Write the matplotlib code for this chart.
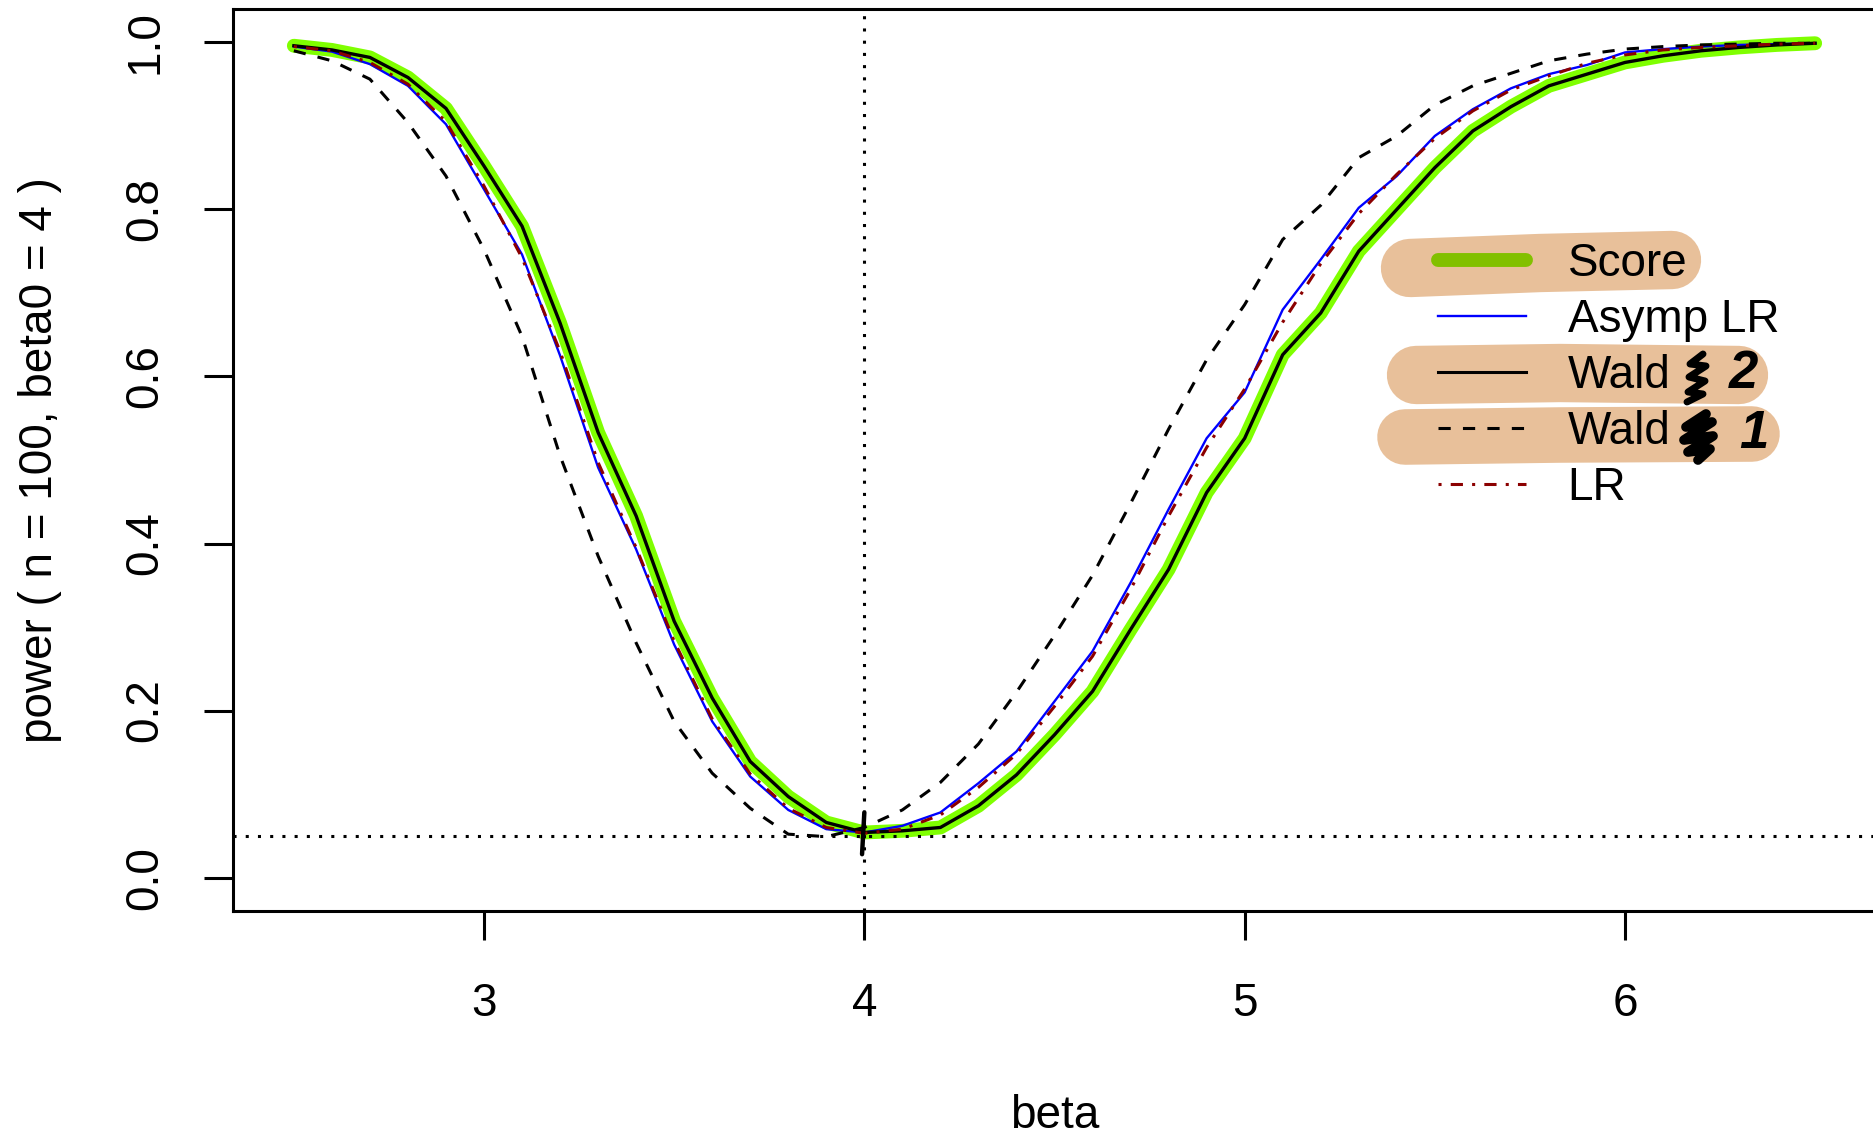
import matplotlib
matplotlib.use("Agg")
import matplotlib.pyplot as plt
from matplotlib.lines import Line2D

plt.rcParams['font.family'] = ['Liberation Sans', 'DejaVu Sans']

# power curves, n = 100, beta0 = 4
beta = [2.5, 2.6, 2.7, 2.8, 2.9, 3.0, 3.1, 3.2, 3.3, 3.4, 3.5, 3.6, 3.7, 3.8, 3.9, 4.0,
        4.1, 4.2, 4.3, 4.4, 4.5, 4.6, 4.7, 4.8, 4.9, 5.0, 5.1, 5.2, 5.3, 5.4, 5.5, 5.6,
        5.7, 5.8, 5.9, 6.0, 6.1, 6.2, 6.3, 6.4, 6.5]
score = [0.996, 0.991, 0.982, 0.958, 0.921, 0.852, 0.780, 0.664, 0.533, 0.433, 0.307, 0.215,
         0.139, 0.097, 0.066, 0.054, 0.056, 0.060, 0.086, 0.123, 0.171, 0.223, 0.297, 0.369,
         0.461, 0.526, 0.626, 0.676, 0.750, 0.800, 0.850, 0.894, 0.923, 0.948, 0.962, 0.976,
         0.984, 0.990, 0.994, 0.997, 0.999]
asymp_lr = [0.995, 0.989, 0.974, 0.948, 0.902, 0.824, 0.746, 0.625, 0.491, 0.393, 0.279, 0.187,
            0.121, 0.081, 0.058, 0.054, 0.062, 0.078, 0.113, 0.151, 0.211, 0.271, 0.353, 0.441,
            0.526, 0.581, 0.680, 0.740, 0.802, 0.840, 0.888, 0.920, 0.945, 0.962, 0.973, 0.988,
            0.992, 0.995, 0.997, 0.998, 0.999]
wald2 = [0.996, 0.991, 0.982, 0.958, 0.921, 0.852, 0.780, 0.664, 0.533, 0.433, 0.307, 0.215,
         0.139, 0.097, 0.066, 0.054, 0.056, 0.060, 0.086, 0.123, 0.171, 0.223, 0.297, 0.369,
         0.461, 0.526, 0.626, 0.676, 0.750, 0.800, 0.850, 0.894, 0.923, 0.948, 0.962, 0.976,
         0.984, 0.990, 0.994, 0.997, 0.999]
wald1 = [0.990, 0.978, 0.956, 0.904, 0.840, 0.752, 0.648, 0.505, 0.385, 0.281, 0.187, 0.125,
         0.083, 0.052, 0.049, 0.060, 0.081, 0.114, 0.160, 0.222, 0.290, 0.362, 0.448, 0.537,
         0.620, 0.686, 0.764, 0.805, 0.862, 0.888, 0.925, 0.948, 0.963, 0.978, 0.986, 0.992,
         0.995, 0.997, 0.998, 0.999, 0.999]
lr = [0.995, 0.990, 0.976, 0.950, 0.905, 0.828, 0.742, 0.630, 0.497, 0.395, 0.283, 0.190,
      0.124, 0.083, 0.060, 0.053, 0.058, 0.075, 0.108, 0.148, 0.205, 0.265, 0.345, 0.433,
      0.515, 0.585, 0.665, 0.735, 0.795, 0.842, 0.885, 0.918, 0.943, 0.960, 0.975, 0.985,
      0.991, 0.994, 0.996, 0.998, 0.999]
labels = ['Score', 'Asymp LR', 'Wald', 'Wald', 'LR']
beta0 = 4
alpha = 0.05

W, H = 1874, 1137
fig = plt.figure(figsize=(W / 100, H / 100), dpi=100)
ax = fig.add_axes([233 / W, 1 - 911 / H, (1876 - 233) / W, (911 - 9) / H])
ax.patch.set_alpha(0)

ax.plot(beta, score, color='#7FFF00', lw=10, solid_capstyle='round', solid_joinstyle='round')
ax.plot(beta, asymp_lr, color='#0000FF', lw=1.7)
ax.plot(beta, wald2, color='black', lw=2.4)
ax.plot(beta, wald1, color='black', lw=2.2, ls=(0, (4, 4)))
ax.plot(beta, lr, color='#8B0000', lw=2.2, ls=(0, (1, 3, 4, 3)))
ax.axvline(beta0, color='black', lw=2.2, ls=(0, (1, 3)))
ax.axhline(alpha, color='black', lw=2.2, ls=(0, (1, 3)))
# hand mark at the minimum
ax.plot([4.0, 3.994], [0.078, 0.028], color='black', lw=3.2, solid_capstyle='round')

ax.set_xlim(2.34, 6.66)
ax.set_ylim(-0.04, 1.04)
ax.set_xticks([3, 4, 5, 6])
ax.set_yticks([0, 0.2, 0.4, 0.6, 0.8, 1.0])
ax.set_yticklabels(['0.0', '0.2', '0.4', '0.6', '0.8', '1.0'], rotation=90, va='center')
ax.tick_params(axis='both', length=21, width=2.2, labelsize=33)
ax.tick_params(axis='x', pad=30)
ax.tick_params(axis='y', pad=26)
for s in ax.spines.values():
    s.set_linewidth(2.2)

ax.set_xlabel('beta', fontsize=33, va='top')
ax.xaxis.set_label_coords(0.5, -0.203)
ax.set_ylabel('power ( n = 100, beta0 = 4 )', fontsize=33)
ax.yaxis.set_label_coords(-0.104, 0.5)

# highlighter strokes behind the legend
def px(xs, ys):
    return [x / W for x in xs], [1 - y / H for y in ys]

peach = '#E8C09A'
for xs, ys, w in [([1410, 1540, 1672], [268, 263, 260], 42),
                  ([1416, 1560, 1739], [375, 373, 375], 42),
                  ([1405, 1560, 1752], [437, 435, 434], 40)]:
    fx, fy = px(xs, ys)
    fig.add_artist(Line2D(fx, fy, color=peach, lw=w, solid_capstyle='round', zorder=-1))

handles = [Line2D([], [], color='#82C000', lw=10, solid_capstyle='round'),
           Line2D([], [], color='#0000FF', lw=1.7),
           Line2D([], [], color='black', lw=2.2),
           Line2D([], [], color='black', lw=2.2, ls=(0, (4, 4))),
           Line2D([], [], color='#8B0000', lw=2.2, ls=(0, (1, 3, 4, 3)))]
ax.legend(handles, labels, loc='upper left', bbox_to_anchor=(1438 / W, 1 - 242 / H),
          bbox_transform=fig.transFigure, frameon=False, fontsize=33, handlelength=1.93,
          handletextpad=0.9, labelspacing=0.26, borderpad=0, borderaxespad=0)

# scribbles and handwritten numbers
fx, fy = px([1703, 1690, 1706, 1689, 1705, 1688, 1703, 1687], [354, 364, 366, 377, 381, 392, 394, 402])
fig.add_artist(Line2D(fx, fy, color='black', lw=5, solid_joinstyle='round', solid_capstyle='round'))
fx, fy = px([1706, 1686, 1712, 1684, 1713, 1688, 1710, 1698], [414, 427, 422, 440, 436, 452, 449, 460])
fig.add_artist(Line2D(fx, fy, color='black', lw=7, solid_joinstyle='round', solid_capstyle='round'))
fig.text(1744 / W, 1 - 374 / H, '2', fontsize=38, fontweight='bold', fontstyle='italic',
         ha='center', va='center')
fig.text(1754 / W, 1 - 434 / H, '1', fontsize=38, fontweight='bold', fontstyle='italic',
         ha='center', va='center')

fig.savefig('out.png', dpi=100, facecolor='white')
